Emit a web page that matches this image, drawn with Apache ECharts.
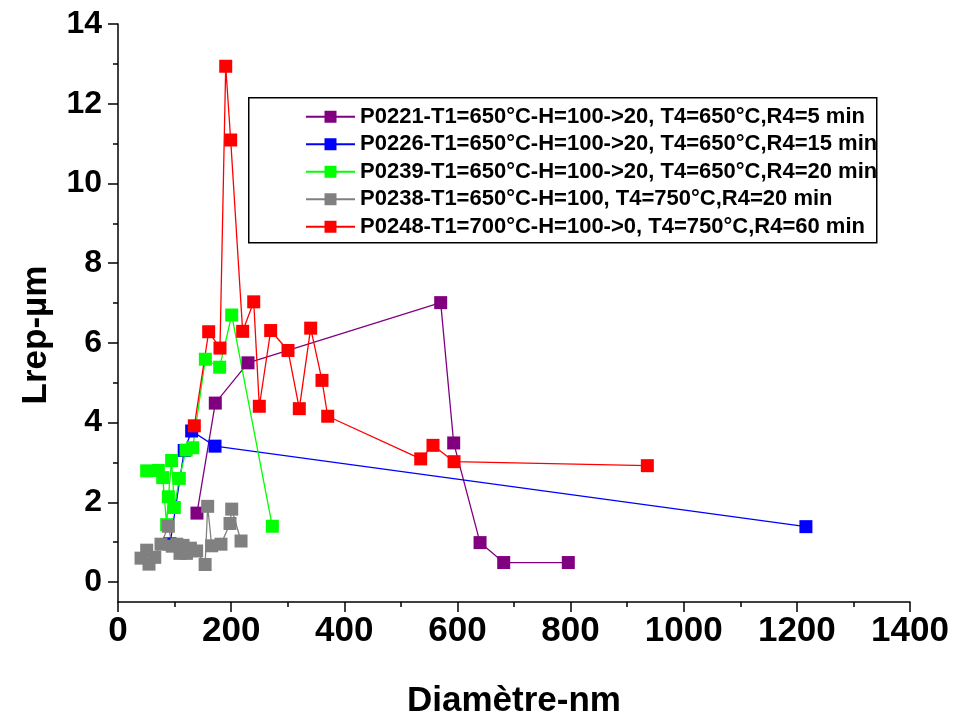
<!DOCTYPE html>
<html>
<head>
<meta charset="utf-8">
<script src="https://cdn.jsdelivr.net/npm/echarts@6/dist/echarts.min.js"></script>
<style>
html,body{margin:0;padding:0;background:#fff;}
#chart{width:953px;height:724px;}
</style>
</head>
<body>
<div id="chart"></div>
<script>
// ---- data ----
const seriesNames = [
  'P0221-T1=650°C-H=100->20, T4=650°C,R4=5 min',
  'P0226-T1=650°C-H=100->20, T4=650°C,R4=15 min',
  'P0239-T1=650°C-H=100->20, T4=650°C,R4=20 min',
  'P0238-T1=650°C-H=100, T4=750°C,R4=20 min',
  'P0248-T1=700°C-H=100->0, T4=750°C,R4=60 min'
];
const purpleX = [139.6, 172, 229.8, 570.4, 593.4, 640, 681.8, 796];
const purpleY = [1.73, 4.49, 5.50, 7.01, 3.49, 0.99, 0.49, 0.49];
const blueX = [92, 117, 130.2, 171.5, 1216];
const blueY = [0.96, 3.30, 3.79, 3.41, 1.39];
const greenX = [50.7, 71.3, 79, 86, 89, 94.8, 99.6, 108.4, 120.3, 132, 154.4, 179.7, 201, 272.8];
const greenY = [2.79, 2.80, 2.62, 1.44, 2.14, 3.05, 1.87, 2.60, 3.31, 3.37, 5.59, 5.39, 6.70, 1.40];
const grayX = [40.7, 50.7, 54.8, 65, 76, 89, 96, 104, 109.6, 115, 121, 128, 139, 154, 158.5, 165.6, 182, 198, 201, 217.5];
const grayY = [0.60, 0.80, 0.45, 0.62, 0.95, 1.40, 0.90, 0.95, 0.72, 0.92, 0.72, 0.85, 0.78, 0.44, 1.90, 0.91, 0.95, 1.47, 1.83, 1.03];
const redX = [134.9, 160.3, 180.3, 190.4, 199.2, 220.4, 239.9, 249.8, 269.9, 300.5, 320.5, 340.6, 360.6, 370.7, 535.1, 556.8, 594, 935.7];
const redY = [3.92, 6.28, 5.87, 12.94, 11.09, 6.29, 7.03, 4.41, 6.31, 5.81, 4.35, 6.37, 5.06, 4.16, 3.09, 3.43, 3.02, 2.92];
const yMajorTicks = [0, 2, 4, 6, 8, 10, 12, 14];
const yMinorTicks = [1, 3, 5, 7, 9, 11, 13];
const xTitle = 'Diamètre-nm';
const yTitle = 'Lrep-µm';

// ---- chart ----
const colors = ['#800080', '#0000FF', '#00FF00', '#808080', '#FF0000'];
const xs = [purpleX, blueX, greenX, grayX, redX];
const ys = [purpleY, blueY, greenY, grayY, redY];
const zip = (a, b) => a.map((v, i) => [v, b[i]]);

const FONT = 'Liberation Sans, Arial, sans-serif';
const chart = echarts.init(document.getElementById('chart'), null, {renderer: 'canvas'});
const series = seriesNames.map((name, i) => ({
  name: name,
  type: 'line',
  data: zip(xs[i], ys[i]),
  symbol: 'rect',
  symbolSize: 13,
  showAllSymbol: true,
  color: colors[i],
  lineStyle: {color: colors[i], width: 1.3},
  itemStyle: {color: colors[i]},
  animation: false,
  emphasis: {disabled: true}
}));

chart.setOption({
  backgroundColor: '#ffffff',
  animation: false,
  grid: {left: 118, right: 43, top: 24, bottom: 114, containLabel: false},
  xAxis: {
    type: 'value', min: 0, max: 1400, interval: 200,
    name: xTitle, nameLocation: 'middle', nameGap: 82,
    nameTextStyle: {fontFamily: FONT, fontWeight: 'bold', fontSize: 35, color: '#000'},
    axisLine: {onZero: false, lineStyle: {color: '#000', width: 1.5}},
    axisTick: {inside: false, length: 10, lineStyle: {color: '#000', width: 1.5}},
    minorTick: {show: true, splitNumber: 2, length: 5, lineStyle: {color: '#000', width: 1.5}},
    axisLabel: {fontFamily: FONT, fontWeight: 'bold', fontSize: 35, color: '#000', margin: 12,
      showMinLabel: true, showMaxLabel: true, formatter: v => String(v)},
    splitLine: {show: false}
  },
  yAxis: [{
    type: 'value', min: -0.5, max: 14, position: 'left', offset: 0,
    name: yTitle, nameLocation: 'middle', nameGap: 64, nameRotate: 90,
    nameTextStyle: {fontFamily: FONT, fontWeight: 'bold', fontSize: 35, color: '#000', padding: [0, 44, 0, 0]},
    axisLine: {onZero: false, lineStyle: {color: '#000', width: 1.5}},
    axisTick: {inside: false, length: 10, customValues: yMajorTicks, lineStyle: {color: '#000', width: 1.5}},
    axisLabel: {fontFamily: FONT, fontWeight: 'bold', fontSize: 32, color: '#000', margin: 16, customValues: yMajorTicks,
      formatter: v => String(v)},
    splitLine: {show: false}
  }, {
    type: 'value', min: -0.5, max: 14, position: 'left', offset: 0,
    axisLine: {show: false, onZero: false},
    axisTick: {show: true, inside: false, length: 5, customValues: yMinorTicks, lineStyle: {color: '#000', width: 1.5}},
    axisLabel: {show: false},
    splitLine: {show: false}
  }],
  legend: {
    orient: 'vertical',
    left: 300, top: 98,
    padding: 5,
    itemWidth: 49, itemHeight: 15,
    itemGap: 0,
    selectedMode: false,
    data: seriesNames,
    textStyle: {fontFamily: FONT, fontWeight: 'bold', fontSize: 22, color: '#000', lineHeight: 27.5}
  },
  graphic: [{
    type: 'rect', left: 248, top: 97, z: 0,
    shape: {width: 628, height: 145},
    style: {fill: 'rgba(0,0,0,0)', stroke: '#000', lineWidth: 1.5}
  }],
  series: series
});
</script>
</body>
</html>
